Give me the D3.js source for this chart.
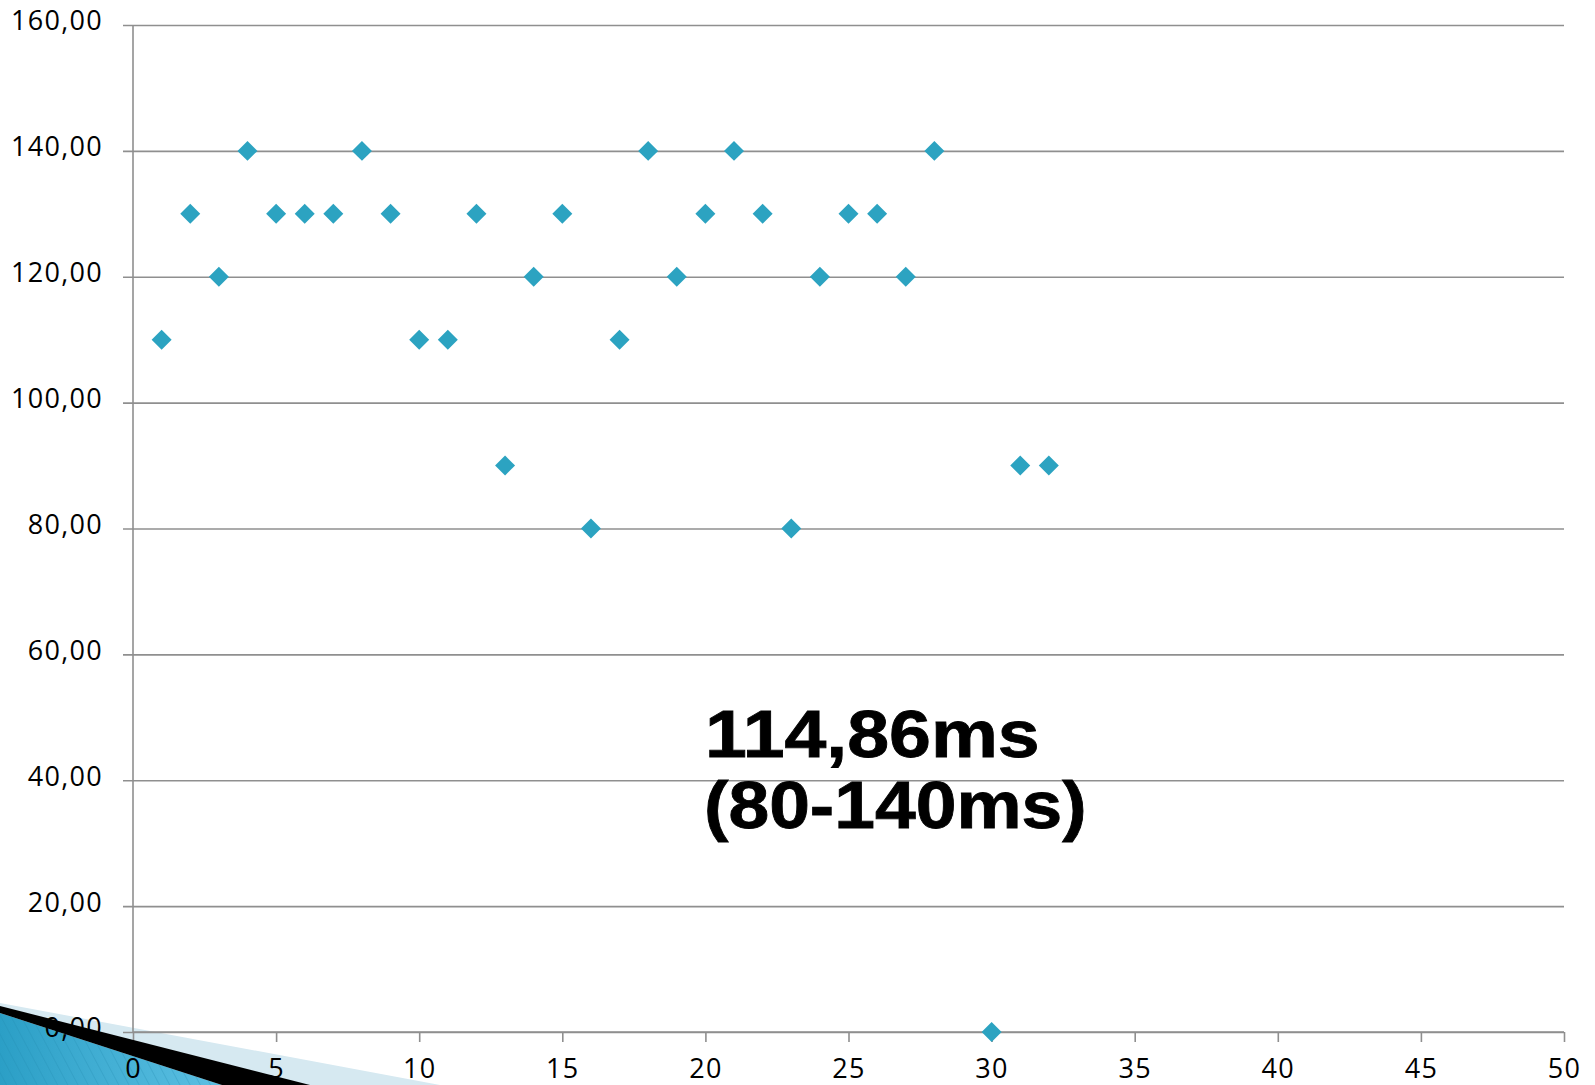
<!DOCTYPE html>
<html>
<head>
<meta charset="utf-8">
<script src="https://cdn.jsdelivr.net/npm/d3@7"></script>
<style>
html,body{margin:0;padding:0;background:#fff;}
svg{display:block;}
</style>
</head>
<body>
<script>
// ---- data ----
const xValues = [1,2,3,4,5,6,7,8,9,10,11,12,13,14,15,16,17,18,19,20,21,22,23,24,25,26,27,28,30,31,32];
const yValues = [110,130,120,140,130,130,130,140,130,110,110,130,90,120,130,80,110,140,120,130,140,130,80,120,130,130,120,140,0,90,90];
const xTicks = [0,5,10,15,20,25,30,35,40,45,50];
const yTicks = [0,20,40,60,80,100,120,140,160];
const annotationLines = ["114,86ms", "(80-140ms)"];

const W = 1595, H = 1085;
const svg = d3.select("body").append("svg").attr("width", W).attr("height", H);

const x = d3.scaleLinear().domain([0, 50]).range([133, 1564]);
const y = d3.scaleLinear().domain([0, 160]).range([1032, 25]);

const gridColor = "#8f8f8f";
const labelFont = "'Open Sans', 'Noto Sans', sans-serif";

// defs: hatch pattern
const defs = svg.append("defs");
const grad = defs.append("linearGradient").attr("id","bg").attr("x1","0").attr("x2","1").attr("y1","0").attr("y2","0");
grad.append("stop").attr("offset","0").attr("stop-color","#2b9fc6");
grad.append("stop").attr("offset","1").attr("stop-color","#5cc0e3");
const pat = defs.append("pattern").attr("id","hatch").attr("patternUnits","userSpaceOnUse")
  .attr("width",9).attr("height",9).attr("patternTransform","rotate(-28)");
pat.append("line").attr("x1",0).attr("y1",0).attr("x2",0).attr("y2",9)
  .attr("stroke","#1f87ad").attr("stroke-opacity",0.45).attr("stroke-width",1.2);

// decoration under everything
const deco = svg.append("g");
deco.append("path").attr("d","M0,1003 L440,1085 L0,1085 Z").attr("fill","#d6e9f1");
deco.append("path").attr("d","M0,1013 L222,1085 L0,1085 Z").attr("fill","url(#bg)");
deco.append("path").attr("d","M0,1013 L222,1085 L0,1085 Z").attr("fill","url(#hatch)");

// y gridlines + ticks
const yAxis = d3.axisLeft(y).tickValues(yTicks).tickSize(-(1564 - 123)).tickPadding(0)
  .tickFormat(d => d3.format(".2f")(d).replace(".", ","));
const gy = svg.append("g").attr("transform", "translate(123,0)").call(yAxis);
gy.select(".domain").remove();
gy.selectAll(".tick line").attr("stroke", gridColor).attr("stroke-width", 1.6);
gy.selectAll(".tick line").attr("x1", 0).attr("x2", 1564 - 123);
gy.selectAll(".tick text").attr("x", -20).attr("dy", "0.18em")
  .attr("font-family", labelFont).attr("font-size", 27).attr("fill", "#000")
  .attr("letter-spacing", "1.3px");

// y axis line
svg.append("line").attr("x1", x(0)).attr("x2", x(0)).attr("y1", y(160)).attr("y2", y(0))
  .attr("stroke", gridColor).attr("stroke-width", 1.6);

// x axis
const xAxis = d3.axisBottom(x).tickValues(xTicks).tickSize(10).tickPadding(17).tickFormat(d3.format("d"));
const gx = svg.append("g").attr("transform", `translate(0,${y(0)})`).call(xAxis);
gx.select(".domain").attr("stroke", gridColor).attr("stroke-width", 1.6).attr("d", `M${x(0)},0H${x(50)}`);
gx.selectAll(".tick line").attr("stroke", gridColor).attr("stroke-width", 1.6);
gx.selectAll(".tick text").attr("font-family", labelFont).attr("font-size", 27).attr("fill", "#000")
  .attr("letter-spacing", "1.3px");

// points
const pts = d3.range(xValues.length).map(i => ({x: xValues[i], y: yValues[i]}));
svg.append("g").selectAll("path").data(pts).join("path")
  .attr("d", d3.symbol(d3.symbolSquare, 200))
  .attr("transform", d => `translate(${x(d.x)},${y(d.y)}) rotate(45)`)
  .attr("fill", "#2ca3c1");

// annotation
const ann = svg.append("g").attr("transform", "translate(705,0)");
annotationLines.forEach((t, i) => {
  ann.append("text")
    .attr("transform", `translate(${i === 0 ? 0 : -1},${i === 0 ? 757 : 828}) scale(${i === 0 ? 1.14 : 1.11},1)`)
    .attr("font-family", "'Liberation Sans', Arial, sans-serif")
    .attr("font-weight", "bold").attr("font-size", 66).attr("fill", "#000")
    .attr("stroke", "#000").attr("stroke-width", 0.8)
    .text(t);
});

// black band on top
svg.append("path").attr("d","M0,1006 L310,1085 L222,1085 L0,1013 Z").attr("fill","#000");
</script>
</body>
</html>
